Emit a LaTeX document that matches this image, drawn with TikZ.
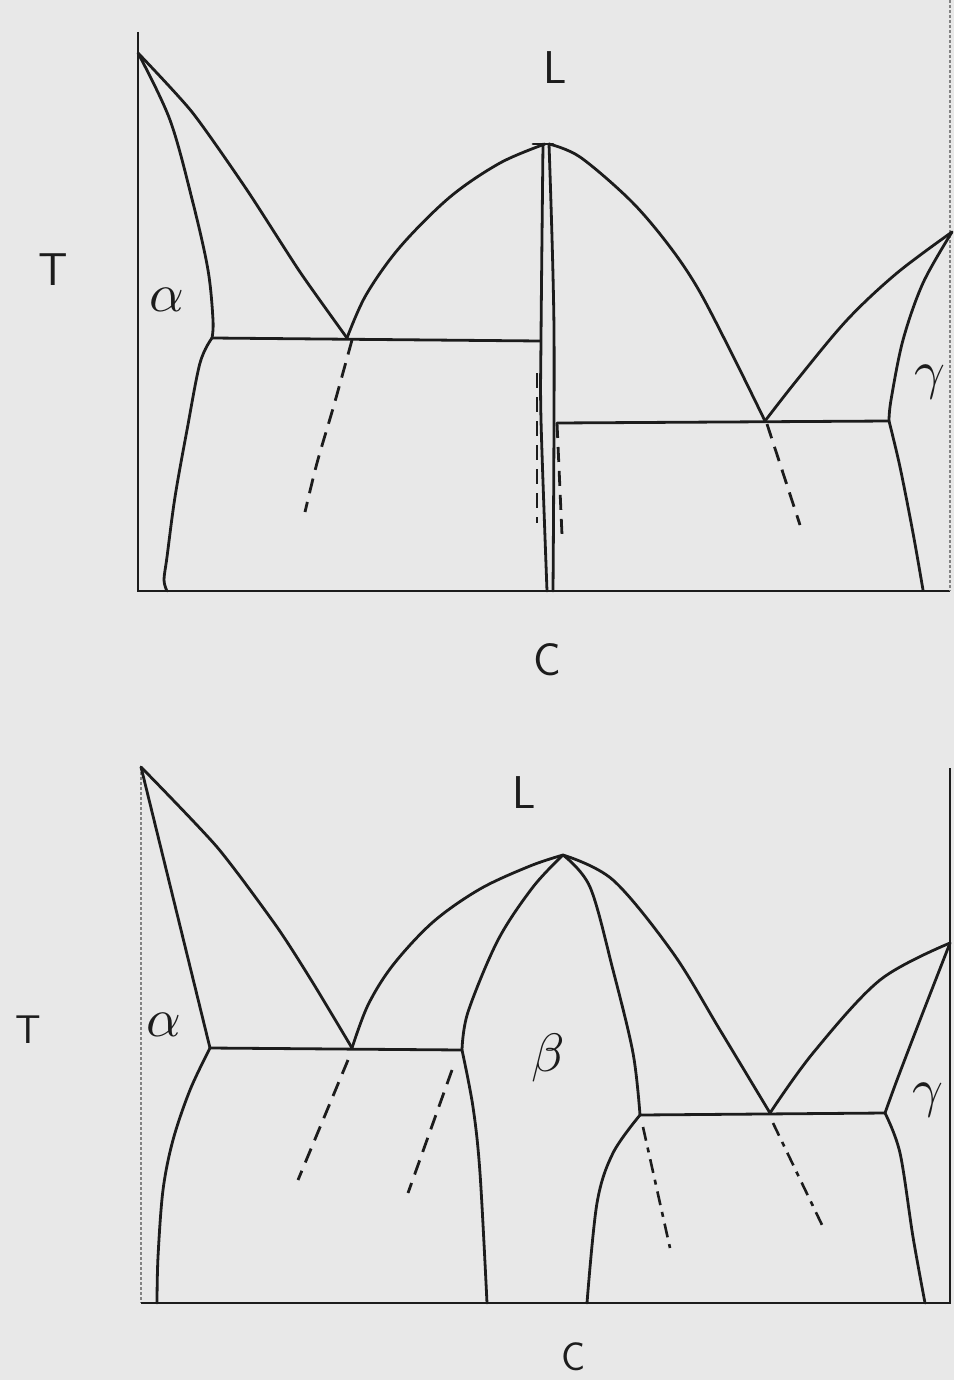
\documentclass[tikz,border=0pt]{standalone}
\usepackage{graphicx}
\definecolor{ink}{RGB}{28,28,28}
\definecolor{paper}{RGB}{232,232,232}
\newcommand{\grkbig}[1]{\scalebox{5.4}{$#1$}}
\begin{document}
\begin{tikzpicture}[x=1pt,y=-1pt,
  ln/.style={line width=2.8pt, draw=ink, line join=round, line cap=round},
  hair/.style={line width=2pt, draw=ink},
  faintaxis/.style={line width=1.2pt, draw=ink!55, dash pattern=on 3pt off 2pt},
  dsh/.style={line width=2.8pt, draw=ink, dash pattern=on 15pt off 9pt},
  dshdot/.style={line width=2.6pt, draw=ink, dash pattern=on 14pt off 7pt on 5pt off 7pt},
  lbl/.style={inner sep=0pt, text=ink, font=\sffamily\fontsize{46}{46}\selectfont},
  glbl/.style={inner sep=0pt, text=ink}]
\fill[paper] (0,0) rectangle (954,1380);
\useasboundingbox (0,0) rectangle (954,1380);

% ================= TOP DIAGRAM =================
\coordinate (tA) at (138,53);
\coordinate (tO) at (138,591);
\coordinate (tTop) at (138,32);
\coordinate (tBR) at (950,591);
\coordinate (tTR) at (950,0);
\coordinate (tS1) at (212,338);
\coordinate (tE1) at (347,338);
\coordinate (tR1) at (540,341);
\coordinate (tC) at (545,144);
\coordinate (tS2) at (557,423);
\coordinate (tE2) at (765,421);
\coordinate (tG1) at (889,421);
\coordinate (tGm) at (952,232);

% axes
\draw[hair] (tTop) -- (tO) -- (tBR);
\draw[faintaxis] (tTR) -- (tBR);

% alpha liquidus and solidus
\draw[ln] plot[smooth, tension=0.4] coordinates {(138,53) (192,112) (247,190) (300,272) (347,338)};
\draw[ln] plot[smooth, tension=0.55] coordinates {(138,53) (170,120) (193,203) (208,270) (213,320) (212,338)};
% alpha solvus
\draw[ln] plot[smooth, tension=0.55] coordinates {(212,338) (200,363) (187,430) (175,497) (167,557) (164,580) (167,591)};
% eutectic 1
\draw[ln] (tS1) -- (tR1);
% liquidus rising to compound
\draw[ln] plot[smooth, tension=0.55] coordinates {(347,338) (366,295) (400,247) (450,197) (500,163) (545,144)};
% compound
\draw[ln] (533,144) -- (553,144);
\draw[ln] plot[smooth, tension=0.5] coordinates {(543,144) (541,338) (541,420) (547,591)};
\draw[ln] plot[smooth, tension=0.5] coordinates {(549,144) (554,330) (553,591)};
% liquidus falling from compound
\draw[ln] plot[smooth, tension=0.55] coordinates {(549,144) (580,157) (630,200) (667,243) (697,287) (730,350) (765,421)};
% gamma liquidus, solidus, solvus
\draw[ln] plot[smooth, tension=0.55] coordinates {(765,421) (797,380) (847,320) (897,273) (952,232)};
\draw[ln] plot[smooth, tension=0.55] coordinates {(952,232) (923,283) (903,340) (891,400) (889,421)};
\draw[ln] plot[smooth, tension=0.55] coordinates {(889,421) (900,467) (913,533) (923,590)};
% eutectic 2
\draw[ln] (tS2) -- (tG1);
% dashed lines
\draw[dsh] plot[smooth] coordinates {(352,340) (334,405) (317,463) (305,512)};
\draw[dsh] (537,373) -- (537,523);
\draw[dsh] (557,423) -- (562,535);
\draw[dsh] (767,424) -- (800,525);

% labels
\node[lbl] (tT) at (53,270) {T};
\node[lbl] (tL) at (555,68) {L};
\node[lbl] (tCc) at (547,660) {C};
\node[glbl] (tal) at (167,300) {\grkbig{\alpha}};
\node[glbl] (tga) at (930,382) {\grkbig{\gamma}};

% ================= BOTTOM DIAGRAM =================
\coordinate (bA) at (141,767);
\coordinate (bO) at (141,1303);
\coordinate (bBR) at (950,1303);
\coordinate (bTR) at (950,768);
\coordinate (bS1) at (210,1048);
\coordinate (bE1) at (352,1048);
\coordinate (bB1) at (462,1050);
\coordinate (bP) at (563,855);
\coordinate (bB2) at (640,1115);
\coordinate (bE2) at (770,1113);
\coordinate (bG1) at (885,1113);
\coordinate (bGm) at (950,943);

% axes
\draw[faintaxis] (bA) -- (bO);
\draw[hair] (bO) -- (bBR) -- (bTR);

% alpha side
\draw[ln] plot[smooth, tension=0.4] coordinates {(141,767) (217,847) (277,927) (313,983) (352,1048)};
\draw[ln] (bA) -- (bS1);
\draw[ln] (bS1) -- (bB1);
\draw[ln] plot[smooth, tension=0.55] coordinates {(210,1048) (190,1090) (173,1140) (163,1190) (158,1257) (157,1303)};
% liquidus up to beta max
\draw[ln] plot[smooth, tension=0.55] coordinates {(352,1048) (368,1005) (393,965) (433,922) (480,889) (530,866) (563,855)};
% beta solidus left
\draw[ln] plot[smooth, tension=0.55] coordinates {(462,1050) (468,1012) (498,940) (533,887) (563,855)};
% beta solvus left
\draw[ln] plot[smooth, tension=0.55] coordinates {(462,1050) (473,1107) (480,1173) (487,1303)};
% beta solidus right
\draw[ln] plot[smooth, tension=0.55] coordinates {(563,855) (590,887) (613,970) (633,1053) (640,1115)};
% liquidus falling
\draw[ln] plot[smooth, tension=0.55] coordinates {(563,855) (613,880) (673,953) (720,1030) (770,1113)};
% eutectic 2
\draw[ln] (bB2) -- (bG1);
% gamma
\draw[ln] plot[smooth, tension=0.55] coordinates {(770,1113) (813,1053) (880,980) (950,943)};
\draw[ln] plot[smooth, tension=0.55] coordinates {(950,943) (920,1020) (897,1080) (885,1113)};
\draw[ln] plot[smooth, tension=0.55] coordinates {(885,1113) (900,1153) (913,1237) (925,1303)};
% beta solvus right
\draw[ln] plot[smooth, tension=0.55] coordinates {(640,1115) (613,1153) (597,1203) (587,1303)};
% dashed lines
\draw[dsh] (348,1060) -- (298,1180);
\draw[dsh] (452,1070) -- (408,1193);
\draw[dshdot] (643,1127) -- (670,1248);
\draw[dshdot] (773,1123) -- (823,1227);

% labels
\node[lbl, font=\sffamily\fontsize{40}{40}\selectfont] (bT) at (28,1030) {T};
\node[lbl] (bL) at (524,793) {L};
\node[lbl, font=\sffamily\fontsize{40}{40}\selectfont] (bCc) at (574,1357) {C};
\node[glbl] (bal) at (164,1025) {\grkbig{\alpha}};
\node[glbl] (bbe) at (548,1058) {\grkbig{\beta}};
\node[glbl] (bga) at (928,1100) {\grkbig{\gamma}};
\end{tikzpicture}
\end{document}
